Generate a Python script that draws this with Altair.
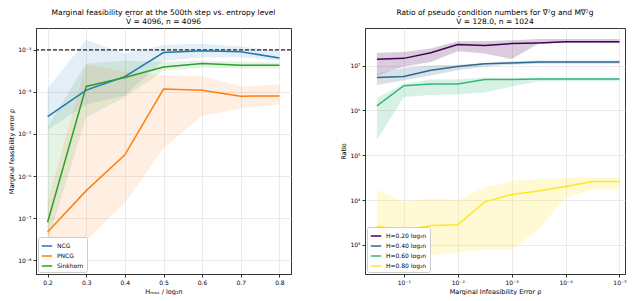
import altair as alt
import pandas as pd

# ---------------- Left panel data ----------------
H_RATIO = [0.2, 0.3, 0.4, 0.5, 0.6, 0.7, 0.8]
METHODS = ["NCG", "PNCG", "Sinkhorn"]
METHOD_COLORS = ["#1f77b4", "#ff7f0e", "#2ca02c"]

NCG_MEAN = [2.6e-5, 1.1e-4, 2.3e-4, 8.6e-4, 9.5e-4, 9.0e-4, 6.4e-4]
NCG_LO = [1.25e-5, 5e-5, 8.3e-5, 5.5e-4, 6.7e-4, 6.7e-4, 5.5e-4]
NCG_HI = [1.2e-4, 1.7e-3, 8.2e-4, 1.3e-3, 1.4e-3, 1.2e-3, 9.5e-4]

PNCG_MEAN = [4.7e-8, 4.5e-7, 3.2e-6, 1.17e-4, 1.1e-4, 7.9e-5, 8e-5]
PNCG_LO = [1.7e-8, 3e-8, 2.3e-7, 4.6e-6, 2.7e-5, 4e-5, 5e-5]
PNCG_HI = [2.5e-7, 4.5e-4, 3e-4, 2.5e-4, 2.4e-4, 1.35e-4, 1.5e-4]

SINK_MEAN = [8e-8, 1.35e-4, 2.2e-4, 3.9e-4, 4.7e-4, 4.3e-4, 4.3e-4]
SINK_LO = [2.8e-8, 2.5e-5, 7.5e-5, 3.2e-4, 3.8e-4, 3.6e-4, 3.6e-4]
SINK_HI = [1.5e-5, 4.7e-4, 5.5e-4, 5.2e-4, 5.5e-4, 5.2e-4, 5e-4]

REF_LEVEL = [1e-3]
LEFT_Y_TICKS = [1e-8, 1e-7, 1e-6, 1e-5, 1e-4, 1e-3]

# ---------------- Right panel data ----------------
RHO = [0.316, 0.1, 0.0316, 0.01, 0.00316, 0.001, 0.000316, 0.0001, 0.0000316, 0.00001]
H_LEVELS = ["H=0.20 log₂n", "H=0.40 log₂n", "H=0.60 log₂n", "H=0.80 log₂n"]
H_COLORS = ["#440154", "#31688e", "#35b779", "#fde725"]

H02_MEAN = [1.39e7, 1.45e7, 1.93e7, 2.95e7, 2.8e7, 3.1e7, 3.2e7, 3.4e7, 3.4e7, 3.4e7]
H02_HI = [1.93e7, 2.0e7, 2.4e7, 3.5e7, 3.5e7, 3.7e7, 3.9e7, 3.9e7, 3.9e7, 3.9e7]
H02_LO = [6e6, 9.5e6, 1.2e7, 2.1e7, 1.85e7, 1.4e7, 3.1e7, 3.2e7, 3.2e7, 3.1e7]

H04_MEAN = [5.4e6, 5.7e6, 7.9e6, 9.5e6, 1.1e7, 1.15e7, 1.2e7, 1.2e7, 1.2e7, 1.2e7]
H04_HI = [6.5e6, 9e6, 1.0e7, 1.05e7, 1.15e7, 1.25e7, 1.3e7, 1.3e7, 1.3e7, 1.3e7]
H04_LO = [3.7e6, 4.7e6, 6e6, 7.9e6, 9.5e6, 1.05e7, 1.1e7, 1.1e7, 1.1e7, 1.1e7]

H06_MEAN = [1.26e6, 3.55e6, 3.9e6, 3.9e6, 4.9e6, 4.9e6, 5e6, 5e6, 5e6, 5e6]
H06_HI = [1.9e6, 3.9e6, 4.9e6, 4.9e6, 5.4e6, 5.2e6, 5.3e6, 5.3e6, 5.3e6, 5.3e6]
H06_LO = [2.2e5, 2e6, 2.2e6, 2.3e6, 2.5e6, 3.4e6, 4.4e6, 4.5e6, 4.5e6, 4.5e6]

H08_MEAN = [2.6e3, 2.1e3, 2.7e3, 2.8e3, 9.1e3, 1.33e4, 1.6e4, 2.0e4, 2.6e4, 2.6e4]
H08_HI = [1.7e4, 9.1e3, 1.1e4, 1.0e4, 1.9e4, 2.7e4, 2.9e4, 3.1e4, 3.2e4, 3.2e4]
H08_LO = [450, 500, 590, 690, 780, 780, 2.2e3, 1.15e4, 1.7e4, 1.75e4]

RIGHT_X_TICKS = [1e-1, 1e-2, 1e-3, 1e-4, 1e-5]
RIGHT_Y_TICKS = [1e3, 1e4, 1e5, 1e6, 1e7]

# ---------------- Build tables ----------------
left_rows = []
for name, m, lo, hi in [("NCG", NCG_MEAN, NCG_LO, NCG_HI),
                        ("PNCG", PNCG_MEAN, PNCG_LO, PNCG_HI),
                        ("Sinkhorn", SINK_MEAN, SINK_LO, SINK_HI)]:
    for h, a, b, c in zip(H_RATIO, m, lo, hi):
        left_rows.append({"h": h, "method": name, "mean": a, "lo": b, "hi": c})
left_df = pd.DataFrame(left_rows)

right_rows = []
for name, m, lo, hi in [(H_LEVELS[0], H02_MEAN, H02_LO, H02_HI),
                        (H_LEVELS[1], H04_MEAN, H04_LO, H04_HI),
                        (H_LEVELS[2], H06_MEAN, H06_LO, H06_HI),
                        (H_LEVELS[3], H08_MEAN, H08_LO, H08_HI)]:
    for r, a, b, c in zip(RHO, m, lo, hi):
        right_rows.append({"rho": r, "level": name, "mean": a, "lo": b, "hi": c})
right_df = pd.DataFrame(right_rows)

SUP = "'⁰¹²³⁴⁵⁶⁷⁸⁹'"
LOG_LABEL = ("'10' + (datum.value < 1 ? '⁻' : '') + substring(" + SUP +
             ", round(abs(log(datum.value)/LN10)), round(abs(log(datum.value)/LN10)) + 1)")

FONT = "DejaVu Sans"


def make_legend():
    return alt.Legend(
        orient="bottom-left", offset=2, title=None, fillColor="white",
        strokeColor="#cccccc", padding=3, cornerRadius=2, labelFontSize=6,
        labelFont=FONT, symbolType="stroke", symbolSize=110, symbolStrokeWidth=1.5,
        symbolOpacity=1, rowPadding=1, labelOffset=4,
    )


# ---------------- Left chart ----------------
xl_scale = alt.Scale(domain=[0.17, 0.83], nice=False, zero=False)
yl_scale = alt.Scale(type="log", domain=[4.7e-9, 3.3e-3], nice=False)
xl_axis = alt.Axis(values=H_RATIO, format=".1f", title="Hₘₐₓ / log₂n")
yl_axis = alt.Axis(values=LEFT_Y_TICKS, labelExpr=LOG_LABEL,
                   title="Marginal feasibility error ρ")
cl_scale = alt.Scale(domain=METHODS, range=METHOD_COLORS)

lbase = alt.Chart(left_df)
l_band = lbase.mark_area(opacity=0.12, clip=True).encode(
    x=alt.X("h:Q", scale=xl_scale, axis=xl_axis),
    y=alt.Y("lo:Q", scale=yl_scale, axis=yl_axis),
    y2="hi:Q",
    color=alt.Color("method:N", scale=cl_scale, legend=make_legend()),
)
l_rule = alt.Chart(pd.DataFrame({"v": REF_LEVEL})).mark_rule(
    color="#222222", strokeDash=[4, 2], strokeWidth=1.3
).encode(y=alt.Y("v:Q", scale=yl_scale, axis=yl_axis))
l_line = lbase.mark_line(strokeWidth=1.5, clip=True).encode(
    x=alt.X("h:Q", scale=xl_scale, axis=xl_axis),
    y=alt.Y("mean:Q", scale=yl_scale, axis=yl_axis),
    color=alt.Color("method:N", scale=cl_scale, legend=make_legend()),
)
left = alt.layer(l_band, l_rule, l_line).properties(
    width=255, height=246,
    title=alt.TitleParams(
        ["Marginal feasibility error at the 500th step vs. entropy level",
         "V̄ = 4096, n = 4096"],
        fontSize=7.5, fontWeight="normal", font=FONT, offset=3, lineHeight=9,
        anchor="middle"),
)

# ---------------- Right chart ----------------
xr_scale = alt.Scale(type="log", domain=[7.9e-6, 0.525], nice=False, reverse=True)
yr_scale = alt.Scale(type="log", domain=[224, 6.9e7], nice=False)
xr_axis = alt.Axis(values=RIGHT_X_TICKS, labelExpr=LOG_LABEL,
                   title="Marginal Infeasibility Error ρ")
yr_axis = alt.Axis(values=RIGHT_Y_TICKS, labelExpr=LOG_LABEL, title="Ratio")
cr_scale = alt.Scale(domain=H_LEVELS, range=H_COLORS)

rbase = alt.Chart(right_df)
r_band = rbase.mark_area(opacity=0.2, clip=True).encode(
    x=alt.X("rho:Q", scale=xr_scale, axis=xr_axis),
    y=alt.Y("lo:Q", scale=yr_scale, axis=yr_axis),
    y2="hi:Q",
    color=alt.Color("level:N", scale=cr_scale, legend=make_legend()),
)
r_line = rbase.mark_line(strokeWidth=1.5, clip=True).encode(
    x=alt.X("rho:Q", scale=xr_scale, axis=xr_axis),
    y=alt.Y("mean:Q", scale=yr_scale, axis=yr_axis),
    color=alt.Color("level:N", scale=cr_scale, legend=make_legend()),
)
right = alt.layer(r_band, r_line).properties(
    width=260, height=246,
    title=alt.TitleParams(
        ["Ratio of pseudo condition numbers for ∇²g and M∇²g",
         "V̄ = 128.0, n = 1024"],
        fontSize=7.5, fontWeight="normal", font=FONT, offset=3, lineHeight=9,
        anchor="middle"),
)

chart = alt.hconcat(left, right, spacing=47).resolve_scale(
    color="independent", x="independent", y="independent"
).resolve_legend(color="independent").properties(
    padding=0, background="white"
).configure_axis(
    labelFont=FONT, titleFont=FONT, labelFontSize=6, titleFontSize=6.5,
    titleFontWeight="normal", labelColor="black", titleColor="black",
    gridColor="#e6e6e6", gridWidth=0.8, domainColor="#333333",
    tickColor="#333333", tickSize=3, labelPadding=2, titlePadding=3,
).configure_view(
    stroke="#333333", strokeWidth=1
)

chart.save("out.html", embed_options={"renderer": "svg", "actions": False})
